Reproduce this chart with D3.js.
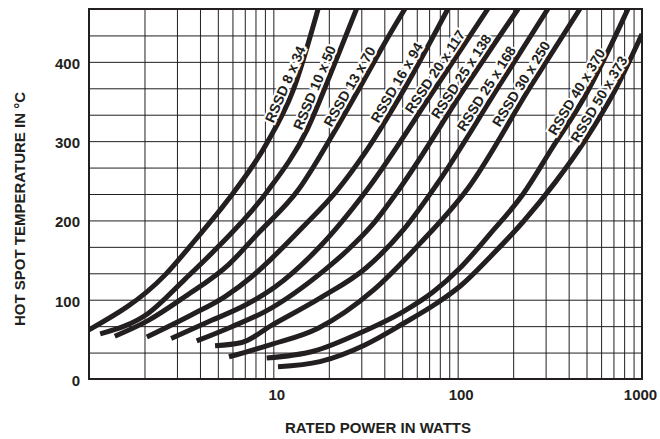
<!DOCTYPE html>
<html>
<head>
<meta charset="utf-8">
<script src="https://cdn.jsdelivr.net/npm/d3@7"></script>
<style>
    body { margin: 0; background: #fff; }
    svg text { font-family: "Liberation Sans", Arial, Helvetica, sans-serif; font-weight: bold; fill: #231f20; }
</style>
</head>
<body>
<svg id="chart"></svg>
<script>
// rated power (W) vs hot spot temperature (°C)
const curveNames = ['RSSD 8 x 34', 'RSSD 10 x 50', 'RSSD 13 x 70', 'RSSD 16 x 94', 'RSSD 20 x 117',
    'RSSD 25 x 138', 'RSSD 25 x 168', 'RSSD 30 x 250', 'RSSD 40 x 370', 'RSSD 50 x 373'];

const rssd8x34 = [[1, 62], [2.58, 131], [3.76, 175], [5.68, 226], [9.2, 297], [12.8, 364], [17.5, 467]];
const rssd10x50 = [[1.15, 57], [2.1, 83], [3.32, 126], [5.03, 167], [9.24, 236], [15.2, 314], [21.2, 394], [28.3, 467]];
const rssd13x70 = [[1.38, 54], [2.1, 74], [3.32, 104], [5.7, 144], [8.29, 184], [13.6, 238], [21.2, 310], [29.5, 368], [41.9, 431], [51.8, 467]];
const rssd16x94 = [[2.06, 53], [3.61, 81], [5.47, 104], [7.63, 129], [9.59, 150], [14.5, 192], [22.2, 238], [32.2, 289], [46.9, 350], [88.6, 467]];
const rssd20x117 = [[2.79, 51], [4.63, 74], [7.02, 93], [10.2, 116], [17.9, 167], [32.1, 238], [76.3, 368], [146, 467]];
const rssd25x138 = [[3.84, 48], [5.95, 66], [9.01, 85], [19.1, 138], [25.4, 163], [34.3, 194], [48.7, 241], [110, 368], [213, 467]];
const rssd25x168 = [[4.83, 42], [6.74, 46], [9.83, 68], [17.9, 102], [31.8, 140], [50.7, 188], [76.8, 245], [166, 368], [309, 467]];
const rssd30x250 = [[5.75, 28], [9.59, 43], [17.5, 64], [34.9, 112], [62.5, 171], [114, 241], [247, 368], [461, 467]];
const rssd40x370 = [[9.2, 26.5], [16.5, 35], [29.5, 58], [50.7, 85], [73.8, 110], [103, 140], [150, 183], [226, 233], [325, 291], [491, 357], [688, 424], [840, 467]];
const rssd50x373 = [[10.6, 15.5], [17.9, 22], [31.4, 43], [50.7, 70], [76.9, 95.5], [103, 117], [150, 154], [226, 198], [338, 248], [491, 301], [714, 364], [1000, 435]];

const series = [rssd8x34, rssd10x50, rssd13x70, rssd16x94, rssd20x117,
    rssd25x138, rssd25x168, rssd30x250, rssd40x370, rssd50x373];

// temperature along each curve where its name is written
const labelTemp = [367, 363, 363, 368, 381, 375, 360, 366, 356, 347];

const xTickValues = [10, 100, 1000];
const yTickValues = [0, 100, 200, 300, 400];
const yMax = 1400 / 3;

function drawChart() {
    const margin = {top: 9, right: 18, bottom: 60, left: 89};
    const width = 660 - margin.left - margin.right;
    const height = 439 - margin.top - margin.bottom;
    const ink = '#231f20';

    const xScale = d3.scaleLog().domain([1, 1000]).range([0, width]);
    const yScale = d3.scaleLinear().domain([0, yMax]).range([height, 0]);

    const root = d3.select('#chart')
        .attr('width', width + margin.left + margin.right)
        .attr('height', height + margin.top + margin.bottom);
    const svg = root.append('g')
        .attr('transform', `translate(${margin.left}, ${margin.top})`);

    // grid: every unit of each decade, and every 33.3 °C
    const xGrid = [];
    [1, 10, 100].forEach(dec => d3.range(2, 11).forEach(k => xGrid.push(k * dec)));
    const yGrid = d3.range(1, 14).map(i => i * 100 / 3);

    svg.append('g')
        .attr('class', 'x-grid')
        .call(d3.axisBottom(xScale).tickValues(xGrid).tickSize(height).tickFormat(''))
        .call(g => g.select('.domain').remove())
        .selectAll('line').attr('stroke', ink).attr('stroke-width', 1);
    svg.append('g')
        .attr('class', 'y-grid')
        .call(d3.axisLeft(yScale).tickValues(yGrid).tickSize(-width).tickFormat(''))
        .call(g => g.select('.domain').remove())
        .selectAll('line').attr('stroke', ink).attr('stroke-width', 1);

    svg.append('rect')
        .attr('width', width)
        .attr('height', height)
        .attr('fill', 'none')
        .attr('stroke', ink)
        .attr('stroke-width', 2);

    // tick labels
    svg.append('g')
        .attr('class', 'x-axis')
        .attr('transform', `translate(0, ${height})`)
        .call(d3.axisBottom(xScale).tickValues(xTickValues).tickSize(0).tickPadding(10).tickFormat(d3.format('d')))
        .call(g => g.select('.domain').remove())
        .selectAll('text').style('font-size', '15px').attr('dx', d => d === 1000 ? -2 : 3);
    svg.append('g')
        .attr('class', 'y-axis')
        .call(d3.axisLeft(yScale).tickValues(yTickValues).tickSize(0).tickPadding(9))
        .call(g => g.select('.domain').remove())
        .selectAll('text').style('font-size', '15px').attr('dy', '0.42em');

    svg.append('text')
        .attr('x', 289)
        .attr('y', height + 54)
        .attr('text-anchor', 'middle')
        .style('font-size', '15px')
        .text('RATED POWER IN WATTS');
    svg.append('text')
        .attr('transform', `translate(${20 - margin.left}, ${height / 2 + 15}) rotate(-90)`)
        .attr('text-anchor', 'middle')
        .attr('dy', '0.35em')
        .style('font-size', '15px')
        .text('HOT SPOT TEMPERATURE IN °C');

    // curves
    svg.append('clipPath')
        .attr('id', 'plot-clip')
        .append('rect')
        .attr('width', width)
        .attr('height', height);

    const line = d3.line()
        .x(d => xScale(d[0]))
        .y(d => yScale(d[1]))
        .curve(d3.curveMonotoneX);

    svg.append('g')
        .attr('clip-path', 'url(#plot-clip)')
        .selectAll('path')
        .data(series)
        .enter()
        .append('path')
        .attr('d', line)
        .attr('fill', 'none')
        .attr('stroke', ink)
        .attr('stroke-width', 5)
        .attr('stroke-linejoin', 'round');

    // point on a curve (in pixels) at a given temperature
    const pointAt = (data, t) => {
        const pts = data.map(d => [xScale(d[0]), yScale(d[1])]);
        const py = yScale(t);
        for (let j = 0; j < pts.length - 1; j++) {
            const a = pts[j], b = pts[j + 1];
            if (py <= a[1] && py >= b[1]) {
                const f = (a[1] - py) / (a[1] - b[1]);
                return [a[0] + f * (b[0] - a[0]), py];
            }
        }
        return pts[pts.length - 1];
    };

    // names sit just left of their curve, written along it
    const offset = 9.5;
    const placed = curveNames.map((name, i) => {
        const p = pointAt(series[i], labelTemp[i]);
        const lo = pointAt(series[i], labelTemp[i] - 45);
        const hi = pointAt(series[i], labelTemp[i] + 20);
        const rise = Math.atan2(lo[1] - hi[1], hi[0] - lo[0]);
        return {
            name: name,
            x: p[0] - offset * Math.sin(rise),
            y: p[1] - offset * Math.cos(rise),
            angle: rise * 180 / Math.PI
        };
    });

    svg.selectAll('.curve-label')
        .data(placed)
        .enter()
        .append('text')
        .attr('class', 'curve-label')
        .attr('transform', d => `translate(${d.x}, ${d.y}) rotate(${-d.angle})`)
        .attr('text-anchor', 'middle')
        .attr('dy', '0.36em')
        .style('font-size', '14px')
        .attr('stroke', '#fff')
        .attr('stroke-width', 4)
        .attr('paint-order', 'stroke')
        .text(d => d.name);
}

document.body.onload = () => drawChart();
</script>
</body>
</html>
